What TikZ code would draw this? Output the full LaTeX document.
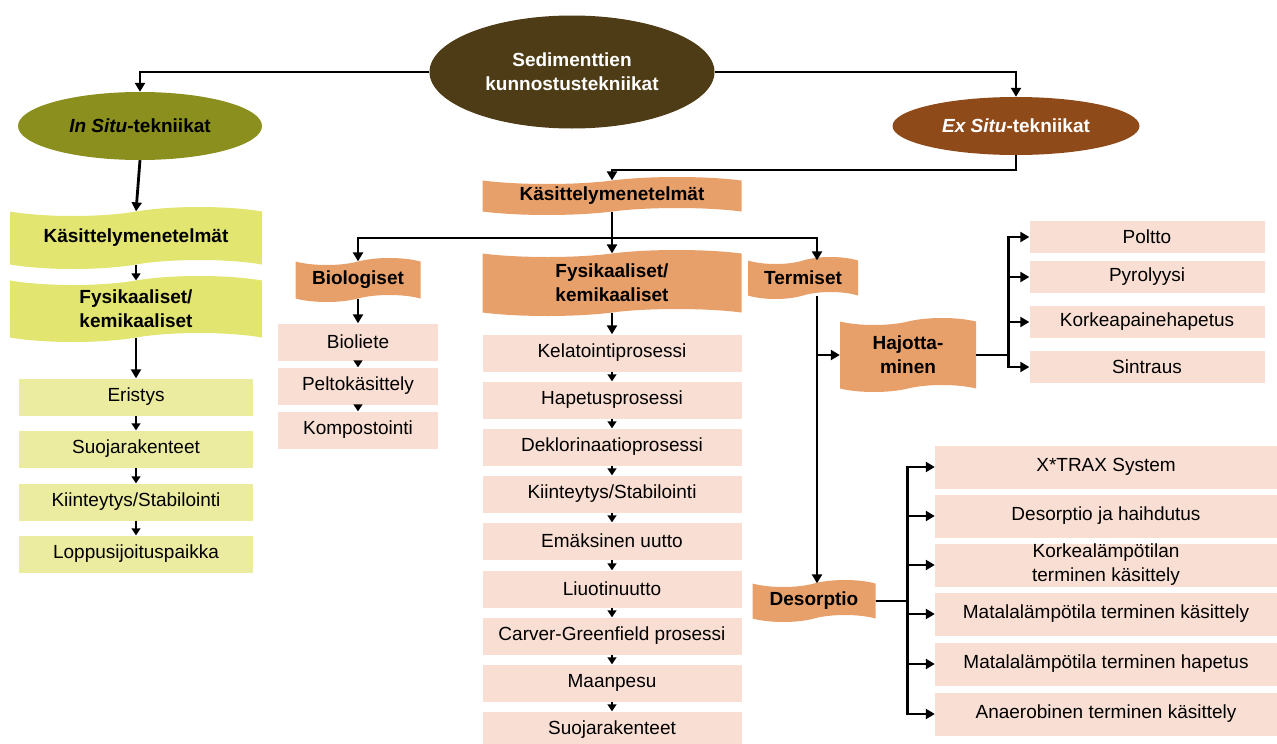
\documentclass[tikz,border=0pt]{standalone}
\usepackage{fontspec}
\setmainfont{Liberation Sans}
\usetikzlibrary{shapes.geometric,shapes.symbols,arrows.meta,calc}
\definecolor{cTop}{RGB}{77,60,22}
\definecolor{cIn}{RGB}{138,143,30}
\definecolor{cEx}{RGB}{143,74,25}
\definecolor{cBanY}{RGB}{226,229,111}
\definecolor{cBoxY}{RGB}{235,236,160}
\definecolor{cBanO}{RGB}{232,160,107}
\definecolor{cBoxP}{RGB}{249,223,211}
\begin{document}
\begin{tikzpicture}[x=1pt,y=-1pt,
  font=\fontsize{19}{23}\selectfont,
  conn/.style={line width=2.8pt,-{Triangle[length=9pt,width=10pt]}},
  smallconn/.style={line width=1.5pt,-{Triangle[length=7pt,width=9pt]}},
  ell/.style={ellipse,inner sep=0pt,align=center,font=\bfseries\fontsize{19}{24}\selectfont},
  banner/.style={tape,tape bend top=in and out,tape bend bottom=in and out,tape bend height=7pt,
    inner sep=0pt,align=center,font=\bfseries\fontsize{19}{24}\selectfont},
  ybanner/.style={banner,fill=cBanY,tape bend height=9pt},
  obanner/.style={banner,fill=cBanO},
  ybox/.style={rectangle,fill=cBoxY,inner sep=0pt,minimum width=234pt,minimum height=37pt},
  pbox/.style={rectangle,fill=cBoxP,inner sep=0pt,minimum height=37pt,align=center,font=\fontsize{19}{24}\selectfont}
]
\useasboundingbox (0,0) rectangle (1277,744);
% ellipses
\node[ell,fill=cTop,text=white,minimum width=285pt,minimum height=113pt] (top) at (572,72) {Sedimenttien\\kunnostustekniikat};
\node[ell,fill=cIn,minimum width=244pt,minimum height=68pt] (insitu) at (140,126) {\textit{In Situ}-tekniikat};
\node[ell,fill=cEx,text=white,minimum width=247pt,minimum height=58pt] (exsitu) at (1016,126) {\textit{Ex Situ}-tekniikat};
% left column
\node[ybanner,minimum width=252pt,minimum height=62pt] (L1) at (136,238) {Käsittelymenetelmät};
\node[ybanner,minimum width=252pt,minimum height=66pt] (L2) at (136,309) {Fysikaaliset/\\kemikaaliset};
\node[ybox] (e1) at (136,397) {Eristys};
\node[ybox] (e2) at (136,449) {Suojarakenteet};
\node[ybox] (e3) at (136,502) {Kiinteytys/Stabilointi};
\node[ybox] (e4) at (136,554) {Loppusijoituspaikka};
% middle
\node[obanner,minimum width=259pt,minimum height=38pt] (M1) at (612,196) {Käsittelymenetelmät};
\node[obanner,minimum width=125pt,minimum height=44pt] (B) at (358,280) {Biologiset};
\node[pbox,minimum width=160pt] (b1) at (358,342) {Bioliete};
\node[pbox,minimum width=160pt] (b2) at (358,386) {Peltokäsittely};
\node[pbox,minimum width=160pt] (b3) at (358,430) {Kompostointi};
\node[obanner,minimum width=259pt,minimum height=66pt] (M2) at (612,283) {Fysikaaliset/\\kemikaaliset};
\node[pbox,minimum width=259pt] (f1) at (612,353) {Kelatointiprosessi};
\node[pbox,minimum width=259pt] (f2) at (612,400) {Hapetusprosessi};
\node[pbox,minimum width=259pt] (f3) at (612,447) {Deklorinaatioprosessi};
\node[pbox,minimum width=259pt] (f4) at (612,494) {Kiinteytys/Stabilointi};
\node[pbox,minimum width=259pt] (f5) at (612,541) {Emäksinen uutto};
\node[pbox,minimum width=259pt] (f6) at (612,589) {Liuotinuutto};
\node[pbox,minimum width=259pt] (f7) at (612,636) {Carver-Greenfield prosessi};
\node[pbox,minimum width=259pt] (f8) at (612,683) {Maanpesu};
\node[pbox,minimum width=259pt] (f9) at (612,730) {Suojarakenteet};
% thermal
\node[obanner,minimum width=110pt,minimum height=42pt] (T) at (803,278) {Termiset};
\node[obanner,minimum width=136pt,minimum height=74pt] (H) at (908,355) {Hajotta-\\minen};
\node[pbox,minimum width=235pt,minimum height=32pt] (h1) at (1147,237) {Poltto};
\node[pbox,minimum width=235pt,minimum height=32pt] (h2) at (1147,277) {Pyrolyysi};
\node[pbox,minimum width=235pt,minimum height=32pt] (h3) at (1147,322) {Korkeapainehapetus};
\node[pbox,minimum width=235pt,minimum height=32pt] (h4) at (1147,367) {Sintraus};
\node[obanner,minimum width=123pt,minimum height=42pt] (D) at (814,601) {Desorptio};
\node[pbox,minimum width=342pt,minimum height=43pt] (d1) at (1106,467) {X*TRAX System};
\node[pbox,minimum width=342pt,minimum height=43pt] (d2) at (1106,516) {Desorptio ja haihdutus};
\node[pbox,minimum width=342pt,minimum height=43pt] (d3) at (1106,565) {Korkealämpötilan\\terminen käsittely};
\node[pbox,minimum width=342pt,minimum height=43pt] (d4) at (1106,614) {Matalalämpötila terminen käsittely};
\node[pbox,minimum width=342pt,minimum height=43pt] (d5) at (1106,664) {Matalalämpötila terminen hapetus};
\node[pbox,minimum width=342pt,minimum height=43pt] (d6) at (1106,714) {Anaerobinen terminen käsittely};
% connectors top
\draw[conn] (top.west) -| (insitu.north);
\draw[conn] (top.east) -| (exsitu.north);
\draw[conn] (insitu.south) -- (L1.north);
\draw[smallconn] (L1.south) -- (L2.north);
\draw[conn] (L2.south) -- (e1.north);
\draw[smallconn] (e1.south) -- (e2.north);
\draw[smallconn] (e2.south) -- (e3.north);
\draw[smallconn] (e3.south) -- (e4.north);
\coordinate (j1) at (612,170);
\coordinate (j2) at (612,238);
\draw[conn] (exsitu.south) |- (j1) -- (M1.north);
\draw[conn] (M1.south) -- (M2.north);
\draw[conn] (j2) -| (B.north);
\draw[conn] (j2) -| ([xshift=14pt]T.north);
\draw[conn] (B.south) -- (b1.north);
\draw[smallconn] (b1.south) -- (b2.north);
\draw[smallconn] (b2.south) -- (b3.north);
\draw[conn] (M2.south) -- (f1.north);
\foreach \a/\b in {f1/f2,f2/f3,f3/f4,f4/f5,f5/f6,f6/f7,f7/f8,f8/f9}
  \draw[smallconn] (\a.south) -- (\b.north);
\draw[conn] ([xshift=14pt]T.south) -- ([xshift=3pt]D.north);
\draw[conn] ([xshift=14pt]T.south |- H.west) -- (H.west);
\foreach \n in {h1,h2,h3,h4}
  \draw[conn] (H.east) -- ++(32,0) |- (\n.west);
\foreach \n in {d1,d2,d3,d4,d5,d6}
  \draw[conn] (D.east) -- ++(32,0) |- (\n.west);
\end{tikzpicture}
\end{document}
